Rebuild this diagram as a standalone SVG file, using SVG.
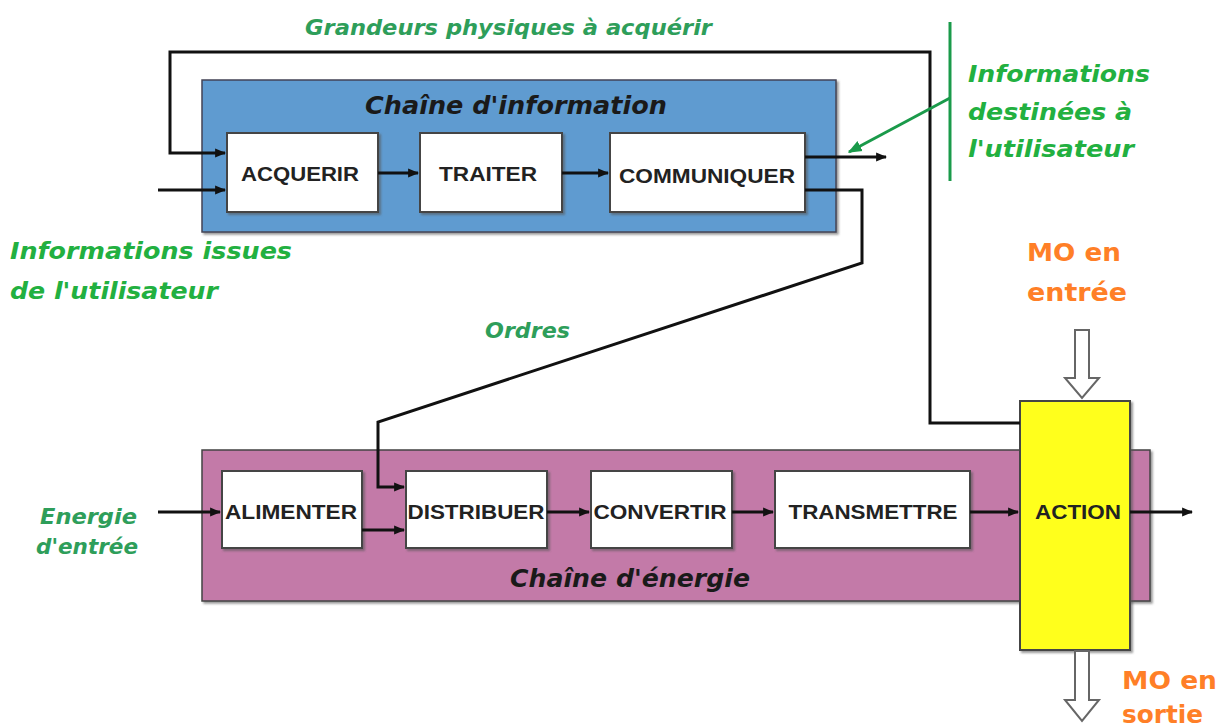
<svg xmlns="http://www.w3.org/2000/svg" width="1229" height="727" viewBox="0 0 1229 727">
<defs>
<marker id="ah" viewBox="0 0 10 10" refX="9" refY="5" markerWidth="11" markerHeight="11" markerUnits="userSpaceOnUse" orient="auto"><path d="M0,1 L10,5 L0,9 z" fill="#111"/></marker>
<marker id="gah" viewBox="0 0 10 10" refX="9" refY="5" markerWidth="14" markerHeight="14" markerUnits="userSpaceOnUse" orient="auto"><path d="M0,1 L10,5 L0,9 z" fill="#1a9a4a"/></marker>
<filter id="sh" x="-5%" y="-5%" width="115%" height="115%"><feDropShadow dx="2" dy="2" stdDeviation="1" flood-color="#555" flood-opacity="0.6"/></filter>
</defs>
<style>
.blk{fill:#fff;stroke:#444;stroke-width:2;filter:url(#sh)}
.bt{font-family:"Liberation Sans",Arial,sans-serif;font-weight:bold;font-size:20px;fill:#222;text-anchor:middle}
.ttl{font-family:"DejaVu Sans","Liberation Sans",sans-serif;font-weight:bold;font-style:italic;font-size:24px;fill:#1a1a1a;text-anchor:middle}
.gr{font-family:"DejaVu Sans","Liberation Sans",sans-serif;font-weight:bold;font-style:italic;font-size:21px;fill:#2e9e5a}
.gb{font-family:"DejaVu Sans","Liberation Sans",sans-serif;font-weight:bold;font-style:italic;font-size:23px;fill:#22b040}
.or{font-family:"DejaVu Sans","Liberation Sans",sans-serif;font-weight:bold;font-size:24px;fill:#ff7f27}
.ln{fill:none;stroke:#111;stroke-width:3}
.hol{fill:#fff;stroke:#666;stroke-width:2}
</style>

<g id="chaine-information">
<rect x="202" y="80" width="634" height="152" fill="#5f9bd0" stroke="#445" stroke-width="1.5" filter="url(#sh)"/>
<text class="ttl" x="516" y="114" textLength="302" lengthAdjust="spacingAndGlyphs">Chaîne d'information</text>
</g>
<g id="chaine-energie">
<rect x="202" y="450" width="948" height="151" fill="#c37aa8" stroke="#444" stroke-width="1.5" filter="url(#sh)"/>
<text class="ttl" x="630" y="587" textLength="240" lengthAdjust="spacingAndGlyphs">Chaîne d'énergie</text>
</g>

<g id="acquerir"><rect class="blk" x="227" y="133" width="151" height="79"/><text class="bt" x="300" y="181" textLength="118" lengthAdjust="spacingAndGlyphs">ACQUERIR</text></g>
<g id="traiter"><rect class="blk" x="420" y="133" width="142" height="79"/><text class="bt" x="488" y="181" textLength="98" lengthAdjust="spacingAndGlyphs">TRAITER</text></g>
<g id="communiquer"><rect class="blk" x="610" y="133" width="195" height="79"/><text class="bt" x="707" y="183" textLength="176" lengthAdjust="spacingAndGlyphs">COMMUNIQUER</text></g>

<g id="alimenter"><rect class="blk" x="222" y="471" width="140" height="77"/><text class="bt" x="291" y="519" textLength="132" lengthAdjust="spacingAndGlyphs">ALIMENTER</text></g>
<g id="distribuer"><rect class="blk" x="406" y="471" width="141" height="77"/><text class="bt" x="476" y="519" textLength="137" lengthAdjust="spacingAndGlyphs">DISTRIBUER</text></g>
<g id="convertir"><rect class="blk" x="591" y="471" width="141" height="77"/><text class="bt" x="660" y="519" textLength="133" lengthAdjust="spacingAndGlyphs">CONVERTIR</text></g>
<g id="transmettre"><rect class="blk" x="775" y="471" width="195" height="77"/><text class="bt" x="873" y="519" textLength="169" lengthAdjust="spacingAndGlyphs">TRANSMETTRE</text></g>
<g id="action"><rect x="1020" y="401" width="110" height="249" fill="#ffff1a" stroke="#444" stroke-width="2" filter="url(#sh)"/><text class="bt" x="1078" y="519" textLength="86" lengthAdjust="spacingAndGlyphs">ACTION</text></g>

<g id="connectors">
<polyline class="ln" points="1020,423 930,423 930,52 170,52 170,153 225,153" marker-end="url(#ah)"/>
<line class="ln" x1="158" y1="190" x2="225" y2="190" marker-end="url(#ah)"/>
<line class="ln" x1="378" y1="173" x2="418" y2="173" marker-end="url(#ah)"/>
<line class="ln" x1="562" y1="173" x2="608" y2="173" marker-end="url(#ah)"/>
<line class="ln" x1="805" y1="157" x2="886" y2="157" marker-end="url(#ah)"/>
<polyline class="ln" points="805,190 862,190 862,263 378,422 378,487 404,487" marker-end="url(#ah)"/>
<line class="ln" x1="158" y1="512" x2="220" y2="512" marker-end="url(#ah)"/>
<line class="ln" x1="362" y1="530" x2="404" y2="530" marker-end="url(#ah)"/>
<line class="ln" x1="547" y1="512" x2="589" y2="512" marker-end="url(#ah)"/>
<line class="ln" x1="732" y1="512" x2="773" y2="512" marker-end="url(#ah)"/>
<line class="ln" x1="970" y1="512" x2="1018" y2="512" marker-end="url(#ah)"/>
<line class="ln" x1="1130" y1="512" x2="1192" y2="512" marker-end="url(#ah)"/>
<line x1="950" y1="22" x2="950" y2="181" stroke="#1a9a4a" stroke-width="3"/>
<line x1="950" y1="98" x2="849" y2="152" stroke="#1a9a4a" stroke-width="3" marker-end="url(#gah)"/>
<path class="hol" d="M1075,330 L1089,330 L1089,378 L1099,378 L1082,398 L1065,378 L1075,378 Z"/>
<path class="hol" d="M1075,651 L1089,651 L1089,700 L1099,700 L1082,721 L1065,700 L1075,700 Z"/>
</g>

<g id="labels">
<text class="gr" x="305" y="35" textLength="407" lengthAdjust="spacingAndGlyphs">Grandeurs physiques à acquérir</text>
<text class="gb" x="968" y="82" textLength="182" lengthAdjust="spacingAndGlyphs">Informations</text>
<text class="gb" x="968" y="120" textLength="164" lengthAdjust="spacingAndGlyphs">destinées à</text>
<text class="gb" x="968" y="157" textLength="166" lengthAdjust="spacingAndGlyphs">l'utilisateur</text>
<text class="gb" x="10" y="259" textLength="282" lengthAdjust="spacingAndGlyphs">Informations issues</text>
<text class="gb" x="10" y="299" textLength="208" lengthAdjust="spacingAndGlyphs">de l'utilisateur</text>
<text class="gr" x="485" y="338" textLength="85" lengthAdjust="spacingAndGlyphs">Ordres</text>
<text class="gr" x="40" y="524" textLength="97" lengthAdjust="spacingAndGlyphs">Energie</text>
<text class="gr" x="36" y="554" textLength="102" lengthAdjust="spacingAndGlyphs">d'entrée</text>
<text class="or" x="1027" y="261" textLength="94" lengthAdjust="spacingAndGlyphs">MO en</text>
<text class="or" x="1027" y="301" textLength="100" lengthAdjust="spacingAndGlyphs">entrée</text>
<text class="or" x="1122" y="689" textLength="95" lengthAdjust="spacingAndGlyphs">MO en</text>
<text class="or" x="1122" y="723" textLength="81" lengthAdjust="spacingAndGlyphs">sortie</text>
</g>
</svg>
